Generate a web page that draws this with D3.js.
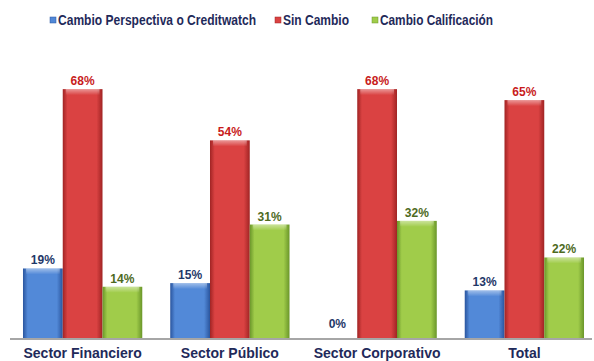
<!DOCTYPE html>
<html>
<head>
<meta charset="utf-8">
<script src="https://cdn.jsdelivr.net/npm/d3@7"></script>
<style>
  body { margin: 0; background: #fff; }
  text { font-family: "Liberation Sans", Arial, sans-serif; font-weight: bold; }
</style>
</head>
<body>
<div id="canvas"></div>
<script>
"use strict"

/* Data */
let sectors = ["Sector Financiero", "Sector Público", "Sector Corporativo", "Total"];
let seriesNames = ["Cambio Perspectiva o Creditwatch", "Sin Cambio", "Cambio Calificación"];
let cambioPerspectiva = [19, 15, 0, 13];
let sinCambio = [68, 54, 68, 65];
let cambioCalificacion = [14, 31, 32, 22];

let svgWidth = 594;
let svgHeight = 361;
let baseY = 338;

let seriesValues = [cambioPerspectiva, sinCambio, cambioCalificacion];
let barColors = [
    { mid: "#5289d8", edge: "#2a559e", label: "#1f3868" },
    { mid: "#da4242", edge: "#a02424", label: "#c81c1c" },
    { mid: "#a0cc4a", edge: "#6a962a", label: "#4e6a1e" }
];

let svg = d3.select("#canvas")
    .append("svg")
    .attr("width", svgWidth)
    .attr("height", svgHeight);

/* gradients for the bevelled bars */
let defs = svg.append("defs");
barColors.forEach(function (c, i) {
    let g = defs.append("linearGradient")
        .attr("id", "grad" + i)
        .attr("x1", "0").attr("x2", "1").attr("y1", "0").attr("y2", "0");
    g.append("stop").attr("offset", "0%").attr("stop-color", c.edge);
    g.append("stop").attr("offset", "12%").attr("stop-color", c.mid);
    g.append("stop").attr("offset", "85%").attr("stop-color", c.mid);
    g.append("stop").attr("offset", "100%").attr("stop-color", c.edge);
});
let hl = defs.append("linearGradient")
    .attr("id", "hl")
    .attr("x1", "0").attr("x2", "0").attr("y1", "0").attr("y2", "1");
hl.append("stop").attr("offset", "0%").attr("stop-color", "#fff").attr("stop-opacity", 0.45);
hl.append("stop").attr("offset", "100%").attr("stop-color", "#fff").attr("stop-opacity", 0);

/* scales */
let x0 = d3.scaleBand()
    .domain(sectors)
    .range([9, 598])
    .paddingInner(0.19)
    .paddingOuter(0.095);

let x1 = d3.scaleBand()
    .domain(d3.range(seriesNames.length))
    .range([0, x0.bandwidth()]);

let yScale = d3.scaleLinear()
    .domain([0, 100])
    .range([baseY, baseY - 366]);

/* bars */
for (let s = 0; s < seriesValues.length; s++) {
    let g = svg.append("g");
    seriesValues[s].forEach(function (v, i) {
        let bx = x0(sectors[i]) + x1(s);
        let by = yScale(v);
        let bh = baseY - by;
        if (bh > 0) {
            g.append("rect")
                .attr("x", bx)
                .attr("y", by)
                .attr("width", x1.bandwidth())
                .attr("height", bh)
                .attr("fill", "url(#grad" + s + ")");
            g.append("rect")
                .attr("x", bx + 3)
                .attr("y", by)
                .attr("width", x1.bandwidth() - 6)
                .attr("height", Math.min(6, bh))
                .attr("fill", "url(#hl)");
        }
        g.append("text")
            .attr("x", bx + x1.bandwidth() / 2)
            .attr("y", bh > 0 ? by - 4 : baseY - 10)
            .attr("text-anchor", "middle")
            .attr("font-size", 12)
            .attr("fill", barColors[s].label)
            .text(v + "%");
    });
}

/* baseline */
svg.append("line")
    .attr("x1", 10)
    .attr("x2", 592)
    .attr("y1", baseY + 1)
    .attr("y2", baseY + 1)
    .attr("stroke", "#a6a6a6")
    .attr("stroke-width", 2);

/* category labels */
sectors.forEach(function (d) {
    svg.append("text")
        .attr("x", x0(d) + x0.bandwidth() / 2)
        .attr("y", 358)
        .attr("text-anchor", "middle")
        .attr("font-size", 14)
        .attr("fill", "#1f2a5a")
        .text(d);
});

/* legend */
let legendX = [50, 275, 372];
let legendTextWidth = [198, 66, 113];
seriesNames.forEach(function (name, i) {
    svg.append("rect")
        .attr("x", legendX[i])
        .attr("y", 17)
        .attr("width", 6)
        .attr("height", 6)
        .attr("fill", barColors[i].mid)
        .attr("stroke", barColors[i].edge)
        .attr("stroke-width", 0.5);
    svg.append("text")
        .attr("x", legendX[i] + 8)
        .attr("y", 25)
        .attr("font-size", 14)
        .attr("fill", "#1f2a5a")
        .attr("textLength", legendTextWidth[i])
        .attr("lengthAdjust", "spacingAndGlyphs")
        .text(name);
});
</script>
</body>
</html>
